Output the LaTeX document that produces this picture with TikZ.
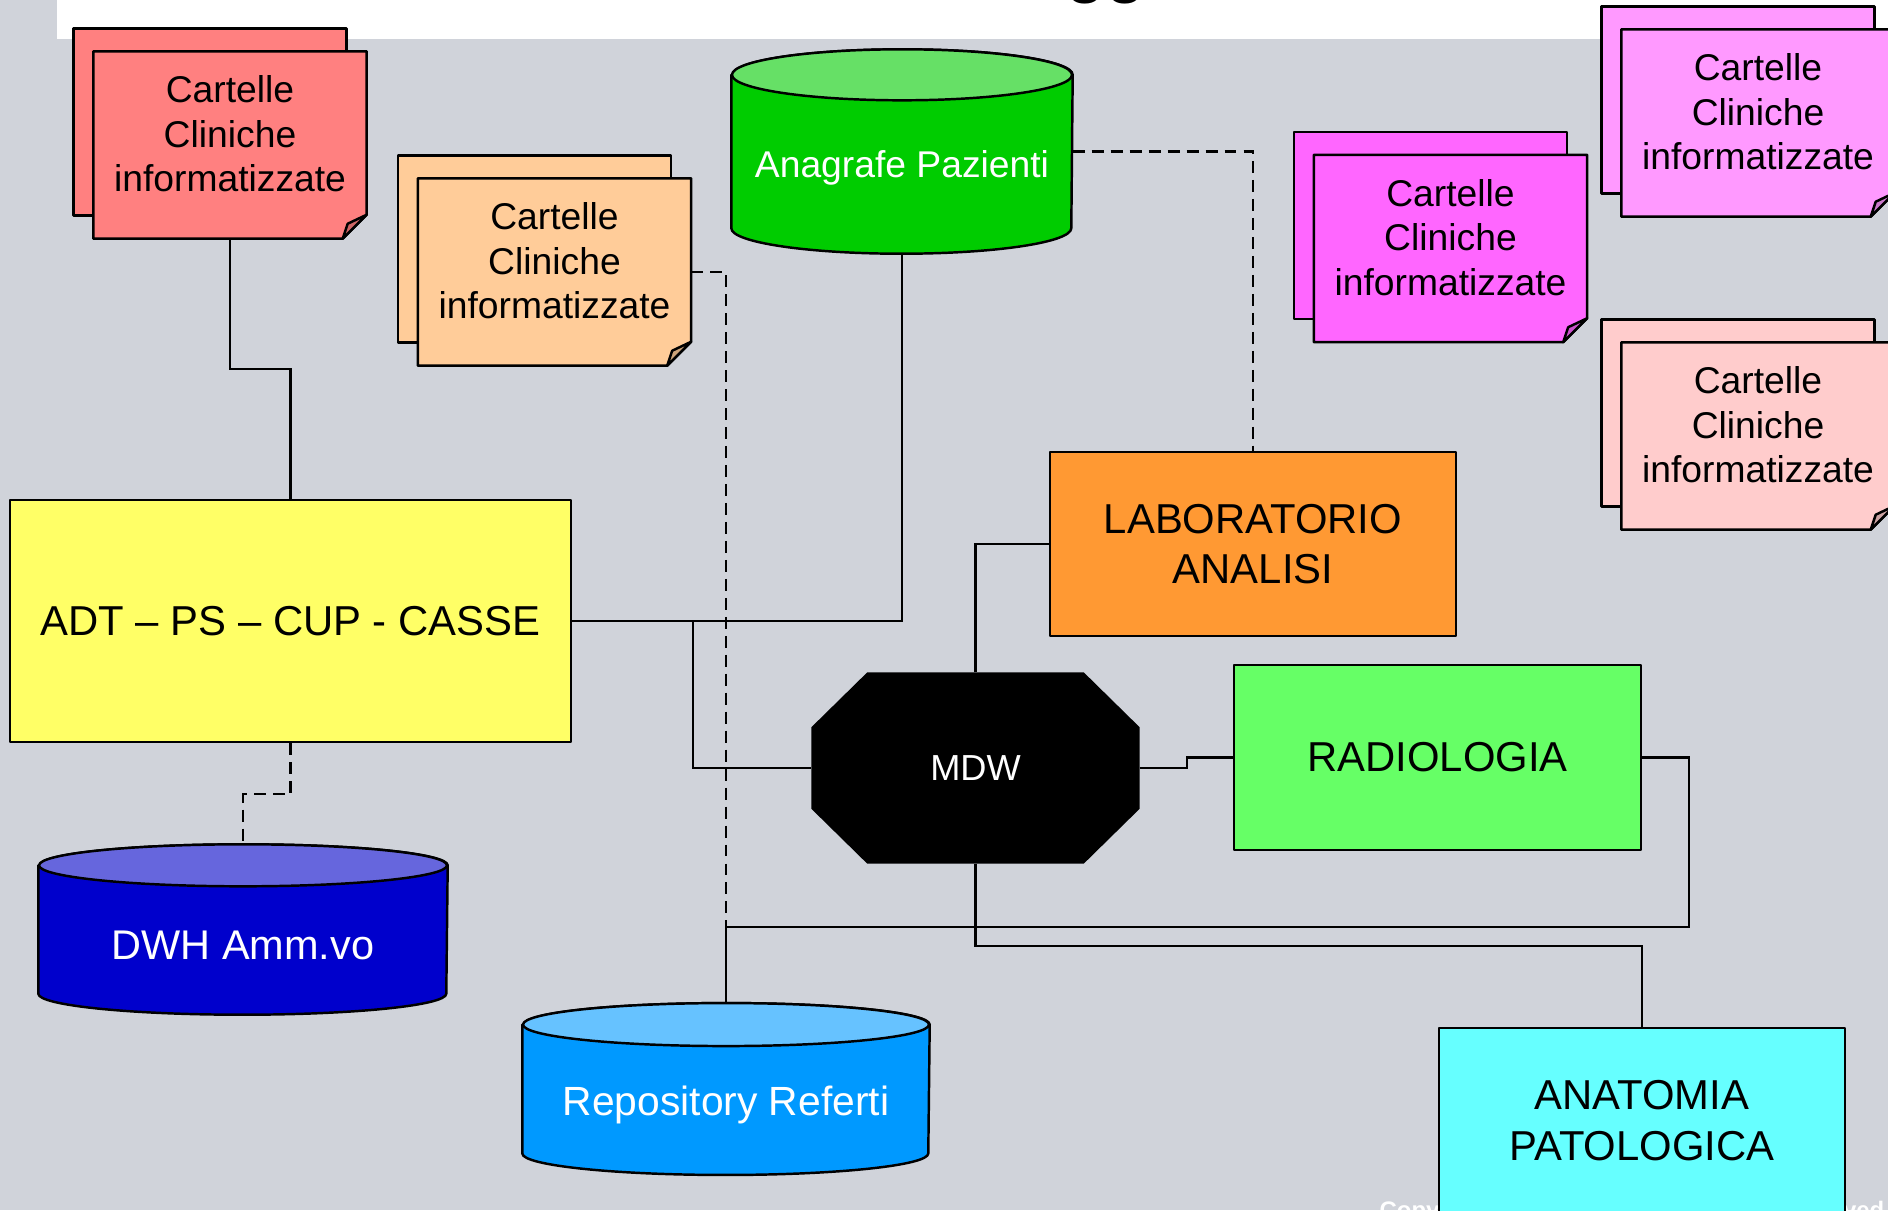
\documentclass[tikz,border=0pt]{standalone}
\usepackage{fontspec}
\setmainfont{Liberation Sans}
\usepackage{tikz}
\usetikzlibrary{calc}

\definecolor{sfondo}{RGB}{208,211,218}
\definecolor{rosso}{RGB}{255,128,128}
\definecolor{rossop}{RGB}{204,102,102}
\definecolor{pesca}{RGB}{255,204,153}
\definecolor{pescap}{RGB}{204,163,122}
\definecolor{fucsia}{RGB}{255,102,255}
\definecolor{fucsiap}{RGB}{204,82,204}
\definecolor{lilla}{RGB}{255,153,255}
\definecolor{lillap}{RGB}{204,122,204}
\definecolor{rosa}{RGB}{255,204,204}
\definecolor{rosap}{RGB}{204,163,163}
\definecolor{verde}{RGB}{0,204,0}
\definecolor{verdec}{RGB}{102,224,102}
\definecolor{blu}{RGB}{0,0,204}
\definecolor{bluc}{RGB}{102,102,221}
\definecolor{azzurro}{RGB}{0,153,255}
\definecolor{azzurroc}{RGB}{102,194,255}
\definecolor{giallo}{RGB}{255,255,102}
\definecolor{arancio}{RGB}{255,153,51}
\definecolor{verdechiaro}{RGB}{102,255,102}
\definecolor{ciano}{RGB}{102,255,255}

\tikzset{
	bordo/.style={line width=0.7pt, line join=round},
	linea/.style={line width=0.6pt},
	tratt/.style={line width=0.6pt, dash pattern=on 3.4pt off 2pt},
	riquadro/.style={draw, bordo, minimum width=40.6mm, minimum height=18.5mm, inner sep=0pt, align=center, font=\fontsize{11.9}{14.4}\selectfont},
	docframe/.style={minimum width=27.2mm, minimum height=18.6mm, inner sep=0pt},
	doctesto/.style={align=center, inner sep=0pt, font=\fontsize{10.6}{12.7}\selectfont}
}

% nome, posizione, colore, piega
\newcommand{\cartella}[4]{
\node[docframe] (#1) at (#2) {};
\draw[bordo, fill=#3] ($(#1.north west)+(-2mm,2.3mm)$) rectangle ($(#1.south east)+(-2mm,2.3mm)$);
\draw[bordo, fill=#3] (#1.north west) -- (#1.north east) -- ($(#1.south east)+(0,2.4mm)$)
	-- ($(#1.south east)+(-2.4mm,0)$) -- (#1.south west) -- cycle;
\draw[bordo, fill=#4] ($(#1.south east)+(0,2.4mm)$) -- ($(#1.south east)+(-2.4mm,0)$)
	-- ($(#1.south east)+(-1.9mm,1.5mm)$) -- cycle;
\node[doctesto] (#1t) at ($(#1)+(0,1.1mm)$) {Cartelle\\Cliniche~\\informatizzate};
}

% nome, posizione, larghezza, altezza, raggio, corpo, coperchio, corpo font, testo
\newcommand{\cilindro}[9]{
\node[minimum width=#3, minimum height=#4, inner sep=0pt] (#1) at (#2) {};
\draw[bordo, fill=#6] ($(#1.north west)+(0,-#5)$) -- ($(#1.south west)+(0,#5)$)
	arc[start angle=180, end angle=360, x radius=#3/2, y radius=#5]
	-- ($(#1.north east)+(0,-#5)$)
	arc[start angle=0, end angle=180, x radius=#3/2, y radius=#5] -- cycle;
\draw[bordo, fill=#7] ($(#1.north)+(0,-#5)$) ellipse[x radius=#3/2, y radius=#5];
\node[text=white, inner sep=0pt, font=\fontsize{#8}{14}\selectfont] (#1t) at ($(#1)+(0,-1.6mm)$) {#9};
}

\begin{document}
\begin{tikzpicture}[x=0.1mm, y=-0.1mm]
\useasboundingbox (0,0) rectangle (1888,1210);
\fill[sfondo] (0,0) rectangle (1888,1210);
\fill[white] (57,0) rectangle (1888,39);
\node[anchor=base, inner sep=0pt, font=\fontsize{18.2}{20}\bfseries] (titolo) at (1106,-9.5) {gg};
\node[anchor=base west, inner sep=0pt, text=white, font=\fontsize{6.8}{8}\bfseries] (copyA) at (1379,1218) {Copyright};
\node[anchor=base east, inner sep=0pt, text=white, font=\fontsize{6.8}{8}\bfseries] (copyB) at (1885,1218) {reserved};

\cartella{cartRossa}{230,145}{rosso}{rossop}
\cartella{cartArancio}{554.5,272}{pesca}{pescap}
\cartella{cartFucsia}{1450.5,248.5}{fucsia}{fucsiap}
\cartella{cartLilla}{1758,123}{lilla}{lillap}
\cartella{cartRosa}{1758,436}{rosa}{rosap}

\cilindro{anagrafe}{902,151.5}{34mm}{20.3mm}{2.55mm}{verde}{verdec}{10.6}{Anagrafe Pazienti}
\cilindro{dwh}{243,929.5}{40.8mm}{16.9mm}{2.1mm}{blu}{bluc}{11.8}{DWH Amm.vo}
\cilindro{repo}{726,1089}{40.6mm}{17.05mm}{2.15mm}{azzurro}{azzurroc}{11.6}{Repository Referti}

\node[riquadro, fill=giallo, minimum width=56.1mm, minimum height=24.2mm] (adt) at (290.5,621) {ADT – PS – CUP - CASSE};
\node[riquadro, fill=arancio, minimum height=18.4mm] (lab) at (1253,544) {LABORATORIO\\ANALISI};
\node[riquadro, fill=verdechiaro, minimum width=40.7mm] (radio) at (1437.5,757.5) {RADIOLOGIA};
\node[riquadro, fill=ciano] (anat) at (1642,1120.5) {ANATOMIA\\PATOLOGICA};

\node[minimum width=32.7mm, minimum height=19mm, inner sep=0pt] (mdw) at (975.5,768) {};
\fill ($(mdw.north west)+(5.6mm,0)$) -- ($(mdw.north east)+(-5.6mm,0)$) -- ($(mdw.north east)+(0,-5.5mm)$)
	-- ($(mdw.south east)+(0,5.5mm)$) -- ($(mdw.south east)+(-5.6mm,0)$) -- ($(mdw.south west)+(5.6mm,0)$)
	-- ($(mdw.south west)+(0,5.5mm)$) -- ($(mdw.north west)+(0,-5.5mm)$) -- cycle;
\node[text=white, font=\fontsize{10.3}{12}\selectfont] (mdwt) at (mdw) {MDW};

\draw[linea] (cartRossa.south) -- ++(0,130) -| (adt.north);
\draw[tratt] (cartArancio.east) -| (repo.north);
\draw[tratt] (anagrafe.east) -| (lab.north);
\draw[linea] (anagrafe.south) |- (adt.east);
\draw[linea] (adt.east) -- ++(121,0) |- (mdw.west);
\draw[linea] (mdw.north) |- (lab.west);
\draw[linea] (mdw.east) -- ++(47,0) |- (radio.west);
\draw[linea] (mdw.south) -- ++(0,82) -| (anat.north);
\draw[linea] (radio.east) -- ++(47,0) -- ++(0,169.5) -| (repo.north);
\draw[tratt] (adt.south) -- ++(0,51) -| (dwh.north);
\end{tikzpicture}
\end{document}
